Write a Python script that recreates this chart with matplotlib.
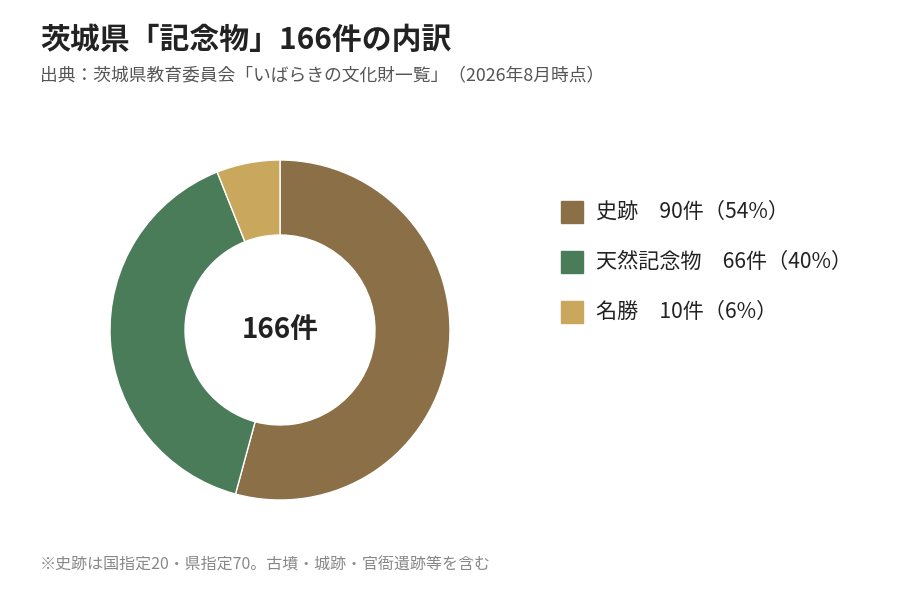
import matplotlib.pyplot as plt
from matplotlib.patches import Rectangle

plt.rcParams['font.family'] = ['Noto Sans CJK JP', 'DejaVu Sans']

labels = ['史跡', '天然記念物', '名勝']
counts = [90, 66, 10]
shares = ['54%', '40%', '6%']
colors = ['#8B6F47', '#4A7C59', '#C9A75C']
total = sum(counts)

fig = plt.figure(figsize=(9, 6), dpi=100)
fig.patch.set_facecolor('white')

ax = fig.add_axes([110 / 900, 100 / 600, 340 / 900, 340 / 600])
ax.pie(counts, colors=colors, startangle=90, counterclock=False, radius=1,
       wedgeprops=dict(width=75 / 170, edgecolor='white', linewidth=1))
ax.set_xlim(-1, 1)
ax.set_ylim(-1, 1)
ax.set_aspect('equal')
ax.text(0, 0, f'{total}件', ha='center', va='center', fontsize=20,
        fontweight='bold', color='#222222')

fig.text(40 / 900, 1 - 40 / 600, '茨城県「記念物」166件の内訳', fontsize=21.5,
         fontweight='bold', color='#222222', va='center')
fig.text(40 / 900, 1 - 75 / 600, '出典：茨城県教育委員会「いばらきの文化財一覧」（2026年8月時点）',
         fontsize=12.8, color='#555555', va='center')
fig.text(40 / 900, 1 - 565 / 600, '※史跡は国指定20・県指定70。古墳・城跡・官衙遺跡等を含む',
         fontsize=11.5, color='#888888', va='center')

for i, (lab, c, s, col) in enumerate(zip(labels, counts, shares, colors)):
    y = 212 + i * 50
    fig.patches.append(Rectangle((561 / 900, 1 - (y + 11) / 600), 22 / 900, 22 / 600,
                                 transform=fig.transFigure, color=col))
    fig.text(596 / 900, 1 - y / 600, f'{lab}　{c}件（{s}）', fontsize=15.2,
             color='#222222', va='center')

fig.savefig('out.png', dpi=100)
